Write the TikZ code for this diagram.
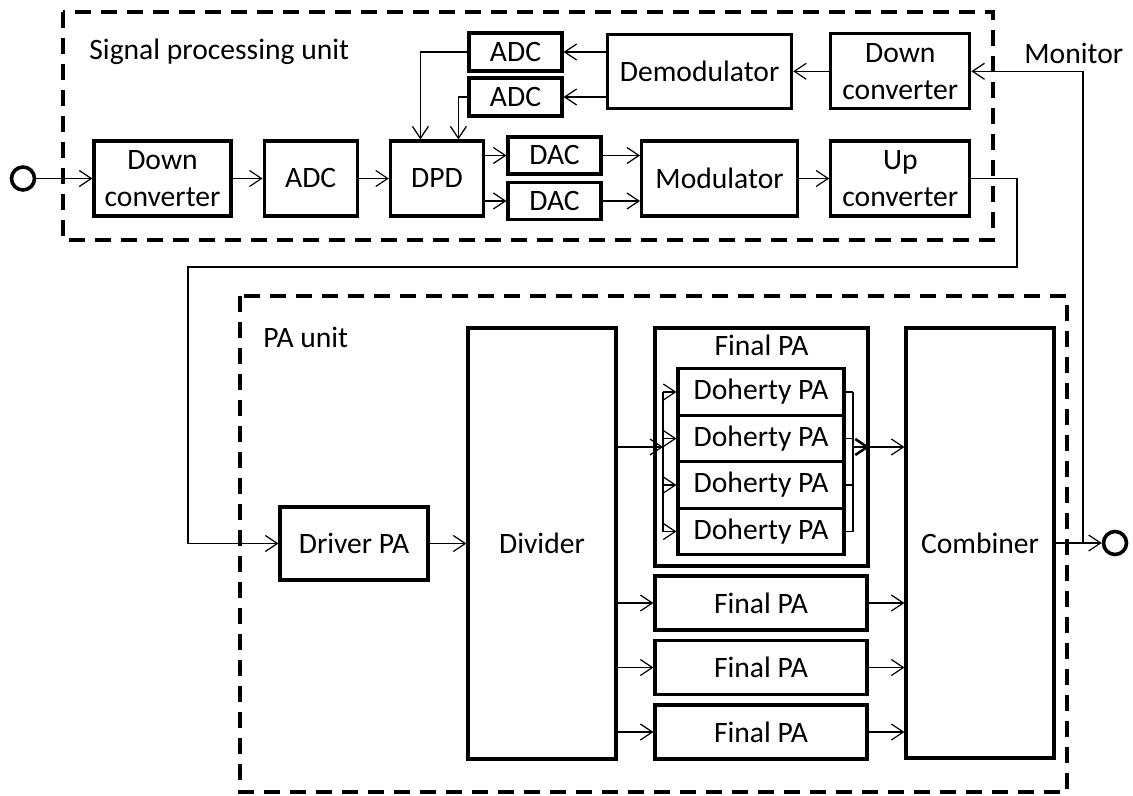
\documentclass[tikz,border=0pt]{standalone}
\usepackage{fontspec}
\setmainfont{Carlito}
\usepackage{tikz}
\usetikzlibrary{arrows.meta,positioning,calc}

\begin{document}
\begin{tikzpicture}[x=0.5pt, y=-0.5pt,
  every node/.style={font=\fontsize{14.8}{18.5}\selectfont},
  blk/.style={draw, line width=1.6pt, inner sep=0pt, align=center},
  arr/.style={-{Straight Barb[length=6pt,width=8pt]}, line width=0.6pt},
  wire/.style={line width=0.6pt},
  unitbox/.style={dash pattern=on 8pt off 5pt, line width=1.8pt},
  port/.style={circle, draw, line width=1.8pt, minimum size=11.5pt, inner sep=0pt}]
\useasboundingbox (0,0) rectangle (1133,796);

% signal processing unit
\draw[unitbox] (63,12) rectangle (993,240);
\node[anchor=west, inner sep=0pt] (spulabel) at (89,52) {Signal processing unit};
\node[port] (in) at (23,178.5) {};
\node[blk, minimum width=68.5pt, minimum height=37.5pt] (dc1) at (162.5,178.5) {Down\\converter};
\node[blk, minimum width=46.5pt, minimum height=37.5pt, right=15pt of dc1] (adc) {ADC};
\node[blk, minimum width=46.5pt, minimum height=37.5pt, right=15pt of adc] (dpd) {DPD};
\node[blk, minimum width=46.5pt, minimum height=18.5pt] (daca) at (554.5,155.5) {DAC};
\node[blk, minimum width=46.5pt, minimum height=18.5pt] (dacb) at (554.5,201) {DAC};
\node[blk, minimum width=78pt, minimum height=37.5pt, right=77.5pt of dpd] (mod) {Modulator};
\node[blk, minimum width=69.5pt, minimum height=37.5pt, right=15pt of mod] (upc) {Up\\converter};
\node[blk, minimum width=69.5pt, minimum height=37.5pt, above=14.5pt of upc] (dc2) {Down\\converter};
\node[blk, minimum width=92pt, minimum height=37pt, left=18pt of dc2] (demod) {Demodulator};
\node[blk, minimum width=46.5pt, minimum height=19pt] (adca) at (515.5,52) {ADC};
\node[blk, minimum width=46.5pt, minimum height=19pt] (adcb) at (515.5,97) {ADC};
\node[anchor=west, inner sep=0pt] (monlabel) at (1024,53) {Monitor};

\draw[arr] (in.east) -- (dc1.west);
\draw[arr] (dc1) -- (adc);
\draw[arr] (adc) -- (dpd);
\draw[arr] (dpd.east |- daca) -- (daca.west);
\draw[arr] (dpd.east |- dacb) -- (dacb.west);
\draw[arr] (daca.east) -- (mod.west |- daca);
\draw[arr] (dacb.east) -- (mod.west |- dacb);
\draw[arr] (mod) -- (upc);
\draw[arr] (dc2.west) -- (demod.east |- dc2);
\draw[arr] (demod.west |- adca) -- (adca.east);
\draw[arr] (demod.west |- adcb) -- (adcb.east);
\draw[arr] (adca.west) -| ($(dpd.north)+(-16.5,0)$);
\draw[arr] (adcb.west) -| ($(dpd.north)+(21.5,0)$);

% PA unit
\draw[unitbox] (240,296) rectangle (1067,792);
\node[anchor=west, inner sep=0pt] (palabel) at (263,337) {PA unit};
\node[blk, minimum width=74pt, minimum height=36.5pt] (drv) at (354,543.5) {Driver PA};
\node[blk, minimum width=74pt, minimum height=215.5pt] (div) at (542,543.5) {Divider};
\node[blk, minimum width=106.5pt, minimum height=119pt] (fpa) at (761.5,447) {};
\node (fpatitle) at (761.5,345) {Final PA};
\foreach \i in {1,...,4}
  \node[blk, minimum width=83pt, minimum height=23.25pt] (doh\i) at (761,345.5+46.5*\i) {Doherty PA};
\foreach \i in {1,2,3}
  \node[blk, minimum width=106pt, minimum height=27pt] (fp\i) at (761,538.5+64.5*\i) {Final PA};
\node[blk, minimum width=74pt, minimum height=215pt] (comb) at (980,543) {Combiner};
\node[port] (out) at (1115,543) {};

\coordinate (r1) at (1017,267);
\coordinate (l1) at (188,267);
\coordinate (tap) at (1083,543);
\coordinate (bin) at (663,447);
\coordinate (bout) at (853,447);

\draw[arr] (upc.east) -| (r1) -- (l1) |- (drv.west);
\draw[arr] (drv) -- (div.west |- drv);
\draw[arr] (div.east |- bin) -- (bin);
\draw[wire] (bin |- doh1) -- (bin |- doh4);
\draw[wire] (bout |- doh1) -- (bout |- doh4);
\foreach \i in {1,...,4} {
  \draw[arr] (bin |- doh\i) -- (doh\i.west);
  \draw[wire] (doh\i.east) -- (bout |- doh\i);
}
\draw[arr, line width=1.3pt] (bout) -- (fpa.east |- bout);
\draw[arr] (fpa.east |- bout) -- (comb.west |- bout);
\foreach \i in {1,2,3} {
  \draw[arr] (div.east |- fp\i) -- (fp\i.west);
  \draw[arr] (fp\i.east) -- (comb.west |- fp\i);
}
\draw[arr] (comb.east) -- (out.west);
\draw[arr] (tap) |- (dc2.east);
\end{tikzpicture}
\end{document}
